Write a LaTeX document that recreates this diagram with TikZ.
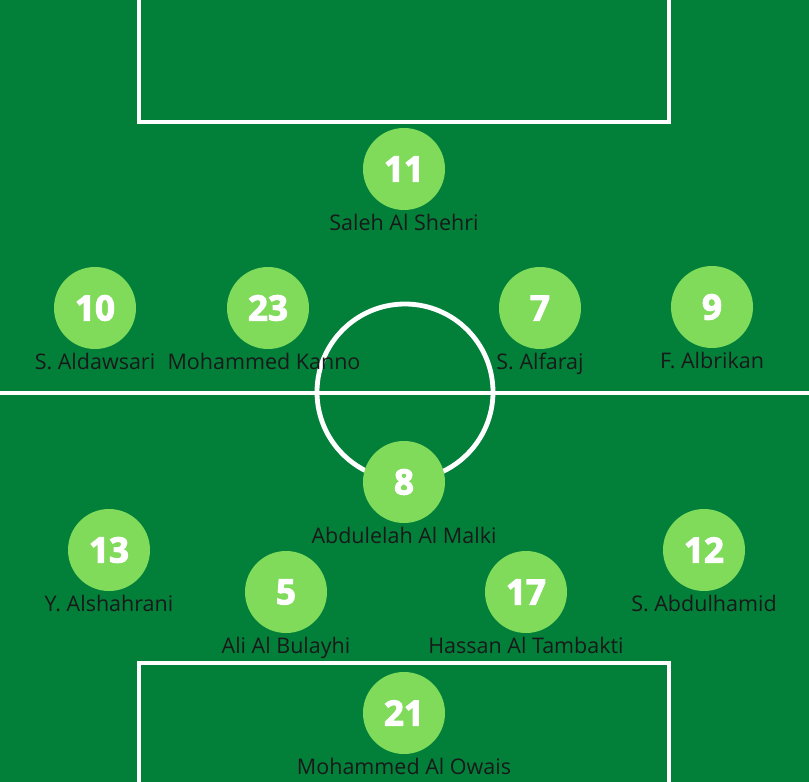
\documentclass[tikz,border=0pt]{standalone}
\usepackage{fontspec}
\setmainfont{Open Sans}
\newfontface\numfont[FakeBold=3]{Open Sans Bold}
\definecolor{pitch}{HTML}{02803A}
\definecolor{disc}{HTML}{80DB5B}
\begin{document}
\begin{tikzpicture}[x=1pt,y=-1pt,
  player/.style={circle,fill=disc,minimum size=82pt,inner sep=0pt,text=white,font=\numfont\fontsize{35}{35}\selectfont},
  pname/.style={text=black!90,font=\fontsize{21.5}{24}\selectfont,inner sep=0pt,anchor=base},
  pitchline/.style={draw=white,line width=3.2pt}]
\fill[pitch] (0,0) rectangle (809,782);
\useasboundingbox (0,0) rectangle (809,782);
% markings
\draw[pitchline] (139,-5) -- (139,122) -- (669,122) -- (669,-5);
\draw[pitchline] (0,393) -- (809,393);
\draw[draw=white,line width=4.8pt] (405,392) circle[radius=88];
\draw[pitchline] (139,790) -- (139,663) -- (669,663) -- (669,790);
% players
\foreach \n/\num/\x/\y/\lx/\name in {
  p11/11/404/169/404/{Saleh Al Shehri},
  p10/10/95/308/95/{S. Aldawsari},
  p23/23/268/308/264/{Mohammed Kanno},
  p7/7/540/308/540/{S. Alfaraj},
  p9/9/712/307/712/{F. Albrikan},
  p8/8/404/482/404/{Abdulelah Al Malki},
  p13/13/109/550/109/{Y. Alshahrani},
  p5/5/286/592/286/{Ali Al Bulayhi},
  p17/17/526/592/526/{Hassan Al Tambakti},
  p12/12/704/550/704/{S. Abdulhamid},
  p21/21/404/713/404/{Mohammed Al Owais}}
{
  \node[player] (\n) at (\x,\y) {\num};
  \node[pname] (\n-l) at (\lx,\y+61) {\name};
}
\end{tikzpicture}
\end{document}
